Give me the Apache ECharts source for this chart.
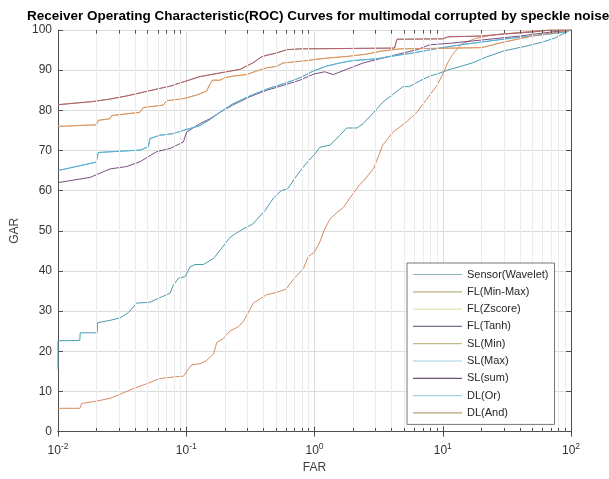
<!DOCTYPE html>
<html>
<head>
<meta charset="utf-8">
<script src="https://cdn.jsdelivr.net/npm/echarts@6/dist/echarts.min.js"></script>
<style>
  html, body { margin: 0; padding: 0; background: #fff; }
  #chart { width: 609px; height: 479px; }
</style>
</head>
<body>
<div id="chart"></div>
<script>
// legend order, as in the figure
const seriesNames = [
  "Sensor(Wavelet)", "FL(Min-Max)", "FL(Zscore)", "FL(Tanh)", "SL(Min)",
  "SL(Max)", "SL(sum)", "DL(Or)", "DL(And)",
];

// [FAR, GAR] points
const sensorWavelet = [
  [0.01, 15.5], [0.01, 22.6], [0.0148, 22.7], [0.0149, 24.6], [0.0202, 24.6], [0.0203, 27.1],
  [0.0255, 27.7], [0.0304, 28.3], [0.0353, 29.6], [0.041, 32], [0.052, 32.2], [0.066, 33.7],
  [0.075, 34.5], [0.079, 36.4], [0.087, 38.2], [0.098, 38.6], [0.107, 41], [0.117, 41.6],
  [0.136, 41.6], [0.163, 43.1], [0.183, 45.1], [0.22, 48.4], [0.262, 50], [0.33, 51.7],
  [0.41, 55], [0.48, 58.2], [0.55, 60], [0.62, 60.5], [0.7, 63], [0.8, 65.5], [0.9, 67.5],
  [1.0, 69], [1.1, 70.8], [1.25, 71.2], [1.32, 71.3], [1.58, 73.8], [1.78, 75.6], [2.15, 75.6],
  [2.4, 76.7], [2.9, 79.5], [3.4, 82], [4.1, 84], [4.9, 85.9], [5.5, 85.9], [6.6, 87.3],
  [7.9, 88.5], [9.5, 89.3], [11.4, 90.2], [13.7, 90.9], [17, 91.8], [22, 93.3], [30, 94.8],
  [45, 96], [60, 97], [75, 98], [90, 99.3], [100, 100],
];
const flMinMax = [
  [0.01, 5.8], [0.0148, 5.8], [0.0153, 7.0], [0.02, 7.6], [0.0255, 8.3], [0.0304, 9.3],
  [0.0387, 10.7], [0.049, 11.9], [0.062, 13.2], [0.079, 13.6], [0.095, 13.8], [0.104, 15.6],
  [0.11, 16.6], [0.128, 16.9], [0.144, 17.7], [0.163, 19.3], [0.173, 22.2], [0.195, 23.2],
  [0.22, 25.1], [0.255, 26.1], [0.28, 27.5], [0.333, 32], [0.424, 34.1], [0.5, 34.6],
  [0.6, 35.5], [0.68, 37.8], [0.82, 40.6], [0.89, 43.5], [1.0, 44.7], [1.1, 47.2], [1.2, 50.4],
  [1.32, 52.9], [1.49, 54.5], [1.68, 55.8], [1.89, 58.2], [2.25, 61.5], [2.4, 62.3], [2.9, 65.6],
  [3.4, 71.3], [4.1, 74.6], [5.2, 77.1], [6.3, 79.5], [7.5, 82.8], [9.0, 86.1], [10.1, 89.3],
  [11, 92], [12, 94], [14, 96.5], [18, 97.9], [25, 98.8], [40, 99.4], [60, 100], [100, 100],
];
const flTanh = [
  [0.01, 62], [0.0178, 63.3], [0.0254, 65.4], [0.0343, 66], [0.0436, 67.2], [0.0588, 69.7],
  [0.0747, 70.5], [0.0949, 72.1], [0.1008, 74.6], [0.1279, 76.7], [0.153, 77.9], [0.183, 79.5],
  [0.23, 81.3], [0.314, 83.4], [0.425, 85], [0.61, 86.5], [0.77, 87.5], [0.98, 89], [1.2, 89.6],
  [1.4, 88.9], [1.78, 90.2], [2.4, 91.8], [4.4, 93.9], [6.3, 95.1], [7.9, 96.3], [11.4, 96.7],
  [20, 97.5], [40, 98.5], [70, 99.5], [100, 100],
];
const slSum = [
  [0.01, 81.4], [0.0188, 82.2], [0.0254, 82.8], [0.0345, 83.6], [0.0591, 85.3], [0.0747, 86],
  [0.0977, 87.2], [0.128, 88.4], [0.183, 89.3], [0.263, 90.2], [0.33, 91.8], [0.39, 93.4],
  [0.45, 93.9], [0.51, 94.3], [0.61, 95.1], [0.77, 95.3], [4.2, 95.5], [4.4, 97.7], [10, 97.8],
  [11, 98.3], [20, 98.5], [30, 99], [50, 99.5], [70, 100], [100, 100],
];
const dlOr = [
  [0.01, 65], [0.0199, 67.1], [0.0206, 69.5], [0.0436, 70.1], [0.0506, 70.9], [0.0522, 73],
  [0.0624, 73.8], [0.0794, 74.2], [0.0949, 75], [0.128, 76.2], [0.153, 77.7], [0.183, 79.5],
  [0.23, 81.6], [0.314, 83.6], [0.425, 85.3], [0.61, 86.9], [0.77, 88.1], [0.98, 89.8],
  [1.24, 91], [1.58, 91.8], [2.0, 92.4], [3, 92.8], [4.65, 93.8], [5.9, 94.3], [9.5, 95.5],
  [13.7, 96.3], [20, 97], [35, 98], [60, 98.8], [90, 99.5], [100, 100],
];
const dlAnd = [
  [0.01, 76], [0.02, 76.4], [0.0206, 77.5], [0.0254, 77.9], [0.0262, 78.7], [0.0436, 79.5],
  [0.0462, 80.7], [0.0662, 81.3], [0.0704, 82.4], [0.0949, 82.9], [0.1205, 83.8], [0.144, 84.8],
  [0.153, 86.5], [0.16, 87.5], [0.183, 87.5], [0.2, 88.1], [0.23, 88.5], [0.296, 88.9],
  [0.355, 89.8], [0.425, 90.6], [0.475, 90.8], [0.51, 91], [0.57, 91.8], [0.77, 92.2],
  [0.98, 92.6], [1.24, 93], [1.78, 93.4], [2.55, 94], [3.25, 94.7], [4.65, 95.3], [20, 95.6],
  [30, 97], [50, 98.5], [80, 99.5], [100, 100],
];
// curves hidden under others in the figure
const flZscore = dlAnd;
const slMin = slSum;
const slMax = dlOr;

const curves = [sensorWavelet, flMinMax, flZscore, flTanh, slMin, slMax, slSum, dlOr, dlAnd];
const lineColors = ["#4a9bb0", "#d68a62", "#e3c46a", "#7b4f85", "#9bb060", "#6cbddb", "#b85a78", "#5aaed0", "#d9906a"];
const legendColors = ["#8fb3bd", "#b9b47e", "#e4e3a8", "#77738a", "#c3bb86", "#a3d0e2", "#6a5670", "#a3d0e2", "#b0a274"];

const minorFarTicks = [
  0.02, 0.03, 0.04, 0.05, 0.06, 0.07, 0.08, 0.09,
  0.2, 0.3, 0.4, 0.5, 0.6, 0.7, 0.8, 0.9,
  2, 3, 4, 5, 6, 7, 8, 9,
  20, 30, 40, 50, 60, 70, 80, 90,
];

const font = "Liberation Sans, Arial, sans-serif";

const chart = echarts.init(document.getElementById("chart"));

const dataSeries = curves.map((pts, i) => ({
  name: seriesNames[i],
  type: "line",
  data: pts,
  showSymbol: false,
  symbol: "none",
  z: 3,
  lineStyle: { color: lineColors[i], width: 1 },
  itemStyle: { color: lineColors[i] },
}));

// minor grid lines + minor ticks on the bottom/top edges
const gridSeries = {
  type: "line",
  data: [],
  z: 1,
  silent: true,
  markLine: {
    silent: true,
    symbol: "none",
    label: { show: false },
    animation: false,
    lineStyle: { color: "#ececec", type: "solid", width: 1 },
    data: minorFarTicks.map((v) => ({ xAxis: v })),
  },
};
const tickSeries = {
  type: "line",
  data: [],
  z: 4,
  silent: true,
  markLine: {
    silent: true,
    symbol: "none",
    label: { show: false },
    animation: false,
    lineStyle: { color: "#4d4d4d", type: "solid", width: 1 },
    data: minorFarTicks
      .map((v) => [{ coord: [v, 0] }, { coord: [v, 0.9] }])
      .concat(minorFarTicks.map((v) => [{ coord: [v, 99.1] }, { coord: [v, 100] }])),
  },
};

chart.setOption({
  animation: false,
  backgroundColor: "#fff",
  title: {
    text: "Receiver Operating Characteristic(ROC) Curves for multimodal corrupted by speckle noise",
    left: 22,
    top: 4,
    textStyle: { fontFamily: font, fontSize: 13.5, fontWeight: "bold", color: "#000" },
  },
  grid: { left: 58, right: 38, top: 30, bottom: 42 },
  legend: {
    orient: "vertical",
    left: 407,
    top: 263,
    width: 150,
    z: 20,
    padding: [5, 6, 5, 6],
    itemGap: 4.3,
    itemWidth: 49,
    itemHeight: 1.2,
    icon: "rect",
    backgroundColor: "#fff",
    borderColor: "#777",
    borderWidth: 1,
    borderRadius: 0,
    textStyle: { fontFamily: font, fontSize: 11, lineHeight: 13, color: "#262626" },
    data: seriesNames.map((n, i) => ({ name: n, itemStyle: { color: legendColors[i] } })),
  },
  xAxis: [
    {
      type: "log",
      logBase: 10,
      min: 0.01,
      max: 100,
      name: "FAR",
      nameLocation: "middle",
      nameGap: 30,
      nameTextStyle: { fontFamily: font, fontSize: 12, color: "#404040" },
      axisLine: { lineStyle: { color: "#4d4d4d" } },
      axisTick: { inside: true, length: 5, lineStyle: { color: "#4d4d4d" } },
      splitLine: { show: true, lineStyle: { color: "#dcdcdc" } },
      axisLabel: {
        fontFamily: font,
        fontSize: 12,
        color: "#333",
        margin: 11,
        formatter: (v) => "10{s|" + Math.round(Math.log10(v)) + "}",
        rich: { s: { fontFamily: font, fontSize: 8.5, color: "#333", padding: [0, 0, 8, 0] } },
      },
    },
    {
      type: "log",
      logBase: 10,
      min: 0.01,
      max: 100,
      position: "top",
      axisLine: { lineStyle: { color: "#4d4d4d" } },
      axisTick: { inside: true, length: 5, lineStyle: { color: "#4d4d4d" } },
      axisLabel: { show: false },
      splitLine: { show: false },
    },
  ],
  yAxis: [
    {
      type: "value",
      min: 0,
      max: 100,
      interval: 10,
      name: "GAR",
      nameLocation: "middle",
      nameGap: 31,
      nameTextStyle: { fontFamily: font, fontSize: 12, color: "#404040" },
      axisLine: { show: true, lineStyle: { color: "#4d4d4d" } },
      axisTick: { show: true, inside: true, length: 5, lineStyle: { color: "#4d4d4d" } },
      splitLine: { show: true, lineStyle: { color: "#dcdcdc" } },
      axisLabel: { fontFamily: font, fontSize: 12, color: "#333", margin: 6 },
    },
    {
      type: "value",
      min: 0,
      max: 100,
      interval: 10,
      position: "right",
      axisLine: { show: true, lineStyle: { color: "#4d4d4d" } },
      axisTick: { show: true, inside: true, length: 5, lineStyle: { color: "#4d4d4d" } },
      axisLabel: { show: false },
      splitLine: { show: false },
    },
  ],
  series: [gridSeries, tickSeries].concat(dataSeries),
});
</script>
</body>
</html>
